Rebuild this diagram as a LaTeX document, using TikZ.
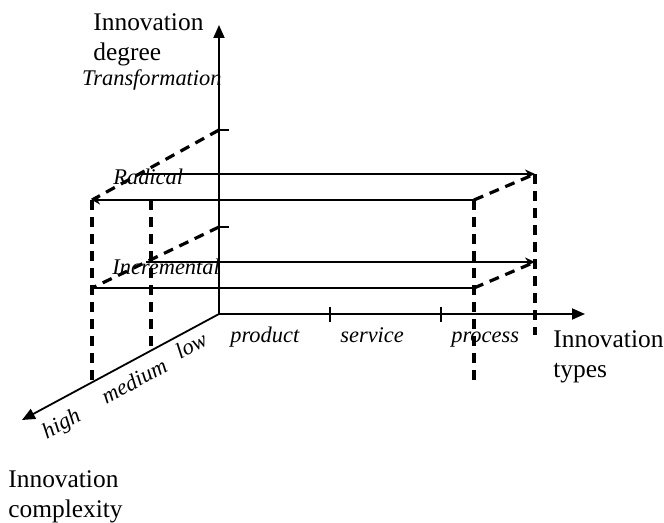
\documentclass[tikz,border=0pt]{standalone}
\usepackage{fontspec}
\setmainfont{Liberation Serif}
\usetikzlibrary{arrows.meta}

\begin{document}
\begin{tikzpicture}[
    x=0.5pt, y=-0.5pt,
    axis/.style={line width=0.9pt, -{Triangle[length=6.5pt,width=5.5pt]}},
    tickmark/.style={line width=0.8pt},
    level/.style={line width=1.4pt},
    arrlevel/.style={level, -{Stealth[length=5pt,width=4.5pt]}},
    guide/.style={line width=1.6pt, dash pattern=on 5pt off 3.5pt},
    title/.style={font=\fontsize{12.7}{15}\selectfont, inner sep=0pt, align=left, anchor=north west},
    scale label/.style={font=\fontsize{11.2}{13}\selectfont\itshape, inner sep=0pt, anchor=base west},
    depth label/.style={font=\fontsize{11.2}{13}\selectfont\itshape, inner sep=0pt, rotate=28}
]

\useasboundingbox (0,0) rectangle (664,523);

% Axes
\coordinate (O) at (219,314);
\coordinate (degend) at (219,25);
\coordinate (typend) at (585,314);
\coordinate (cpxend) at (22,420);
\draw[axis] (O) -- (degend);
\draw[axis] (O) -- (typend);
\draw[axis] (O) -- (cpxend);

% Ticks on the types axis
\foreach \x in {330, 441}
    \draw[tickmark] (\x,307) -- (\x,322);

% Levels: lower line, upper line, dashed sides
\foreach \n/\t/\lo/\up/\ul in {rad/130/200/174/140, inc/227/288/262/146} {
    \coordinate (\n tick) at (219,\t);
    \coordinate (\n LL) at (92,\lo);
    \coordinate (\n LR) at (474,\lo);
    \coordinate (\n UL) at (\ul,\up);
    \coordinate (\n UR) at (535,\up);
    \draw[tickmark] (217,\t) -- (229,\t);
    \draw[arrlevel] (\n UL) -- (\n UR);
    \draw[guide] (\n LR) -- (\n UR);
    \draw[guide] (\n tick) -- (\n LL);
}
\draw[level, -{Stealth[length=4pt,width=4.5pt]}] (radLR) -- (radLL);
\draw[level] (incLL) -- (incLR);

% Vertical dashed lines
\coordinate (hiF) at (92,382);
\coordinate (medT) at (151,200);
\coordinate (medF) at (151,351);
\coordinate (upB) at (535,335);
\coordinate (lowB) at (474,385);
\draw[guide] (radLL) -- (hiF);
\draw[guide] (medT) -- (medF);
\draw[guide] (radUR) -- (upB);
\draw[guide] (radLR) -- (lowB);

% Axis titles
\node[title] (degtitle) at (93,13) {Innovation\\degree};
\node[title] (typtitle) at (553,330) {Innovation\\types};
\node[title] (cpxtitle) at (8,470) {Innovation\\complexity};

% Degree scale
\node[scale label, anchor=base east] (transf) at (222,86) {Transformation};
\node[scale label] (radical) at (113,185) {Radical};
\node[scale label] (incremental) at (112,275) {Incremental};

% Types scale
\node[scale label] (product) at (230,343) {product};
\node[scale label] (service) at (340,343) {service};
\node[scale label] (process) at (451,343) {process};

% Complexity scale
\node[depth label] (low) at (191,345) {low};
\node[depth label] (medium) at (134,381) {medium};
\node[depth label] (high) at (62,425) {high};

\end{tikzpicture}
\end{document}
